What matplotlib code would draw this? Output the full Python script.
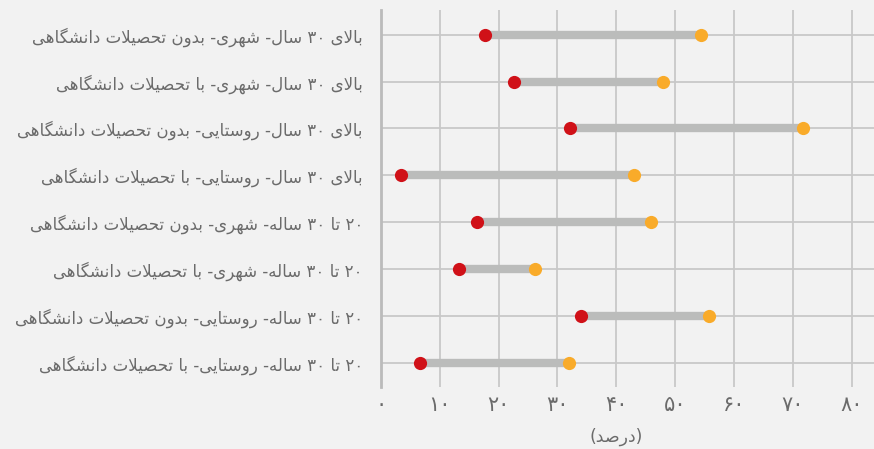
import matplotlib
matplotlib.use('Agg')
import matplotlib.pyplot as plt

labels = [
    'بالای ۳۰ سال- شهری- بدون تحصیلات دانشگاهی',
    'بالای ۳۰ سال- شهری- با تحصیلات دانشگاهی',
    'بالای ۳۰ سال- روستایی- بدون تحصیلات دانشگاهی',
    'بالای ۳۰ سال- روستایی- با تحصیلات دانشگاهی',
    '۲۰ تا ۳۰ ساله- شهری- بدون تحصیلات دانشگاهی',
    '۲۰ تا ۳۰ ساله- شهری- با تحصیلات دانشگاهی',
    '۲۰ تا ۳۰ ساله- روستایی- بدون تحصیلات دانشگاهی',
    '۲۰ تا ۳۰ ساله- روستایی- با تحصیلات دانشگاهی',
]
low = [17.6, 22.6, 32.2, 3.4, 16.4, 13.3, 34.0, 6.7]
high = [54.4, 48.0, 71.8, 43.0, 45.9, 26.1, 55.7, 32.0]
xticks = [0, 10, 20, 30, 40, 50, 60, 70, 80]
xlabel = '(درصد)'

# minimal persian shaping: (isolated, final, initial, medial)
FORMS = {
    'ا': (0xFE8D, 0xFE8E, None, None),
    'ب': (0xFE8F, 0xFE90, 0xFE91, 0xFE92),
    'ت': (0xFE95, 0xFE96, 0xFE97, 0xFE98),
    'ح': (0xFEA1, 0xFEA2, 0xFEA3, 0xFEA4),
    'د': (0xFEA9, 0xFEAA, None, None),
    'ر': (0xFEAD, 0xFEAE, None, None),
    'س': (0xFEB1, 0xFEB2, 0xFEB3, 0xFEB4),
    'ش': (0xFEB5, 0xFEB6, 0xFEB7, 0xFEB8),
    'ص': (0xFEB9, 0xFEBA, 0xFEBB, 0xFEBC),
    'ل': (0xFEDD, 0xFEDE, 0xFEDF, 0xFEE0),
    'ن': (0xFEE5, 0xFEE6, 0xFEE7, 0xFEE8),
    'ه': (0xFEE9, 0xFEEA, 0xFEEB, 0xFEEC),
    'و': (0xFEED, 0xFEEE, None, None),
    'ی': (0xFBFC, 0xFBFD, 0xFBFE, 0xFBFF),
    'گ': (0xFB92, 0xFB93, 0xFB94, 0xFB95),
}


def dual(c):
    return c in FORMS and FORMS[c][2] is not None


def shape(s):
    out = []
    i = 0
    while i < len(s):
        c = s[i]
        prev = s[i - 1] if i > 0 else ''
        if c not in FORMS:
            out.append(c)
            i += 1
            continue
        jp = dual(prev)
        if c == 'ل' and i + 1 < len(s) and s[i + 1] == 'ا':
            out.append(chr(0xFEFC if jp else 0xFEFB))
            i += 2
            continue
        nxt = s[i + 1] if i + 1 < len(s) else ''
        jn = dual(c) and nxt in FORMS
        f = FORMS[c]
        if jp and jn:
            out.append(chr(f[3]))
        elif jp:
            out.append(chr(f[1]))
        elif jn:
            out.append(chr(f[2]))
        else:
            out.append(chr(f[0]))
        i += 1
    # visual order: reverse, keep digit runs left to right
    shaped = ''.join(out)
    runs = []
    for ch in shaped:
        isdig = '۰' <= ch <= '۹'
        if runs and isdig and runs[-1][0]:
            runs[-1][1] += ch
        else:
            runs.append([isdig, ch])
    mirror = {'(': ')', ')': '('}
    return ''.join(mirror.get(r[1], r[1]) for r in reversed(runs))


bg = '#f2f2f2'
txt = '#6b6b6b'
grid = '#c8c8c8'

fig = plt.figure(figsize=(8.74, 4.49), dpi=100, facecolor=bg)
ax = fig.add_axes([381 / 874, 1 - 387 / 449, 1 - 381 / 874, (387 - 10) / 449])
ax.set_facecolor(bg)

y = list(range(len(labels)))
ax.hlines(y, low, high, color='#bbbcbb', lw=6, zorder=2)
ax.plot(low, y, 'o', color='#d01118', ms=9.5, mew=0, zorder=3)
ax.plot(high, y, 'o', color='#f9ab2a', ms=9.5, mew=0, zorder=3)

ax.set_xlim(0, 83.8)
ax.set_ylim(len(labels) - 0.48, -0.53)
ax.set_xticks(xticks)
ax.set_xticklabels([shape(''.join('۰۱۲۳۴۵۶۷۸۹'[int(d)] for d in str(v))) for v in xticks])
ax.set_yticks(y)
ax.set_yticklabels([shape(l) for l in labels])
ax.tick_params(axis='both', length=0, colors=txt)
ax.tick_params(axis='y', pad=13, labelsize=12)
ax.tick_params(axis='x', pad=6, labelsize=15)
ax.grid(True, color=grid, lw=1.3, zorder=0)
ax.set_axisbelow(True)
for s in ['top', 'right', 'bottom']:
    ax.spines[s].set_visible(False)
ax.spines['left'].set_color('#bbbbbb')
ax.spines['left'].set_linewidth(2)

ax.text(40, -50 / 377, shape(xlabel), transform=ax.get_xaxis_transform(),
        ha='center', va='center', color=txt, fontsize=12.5)

fig.savefig('out.png', dpi=100, facecolor=bg)
